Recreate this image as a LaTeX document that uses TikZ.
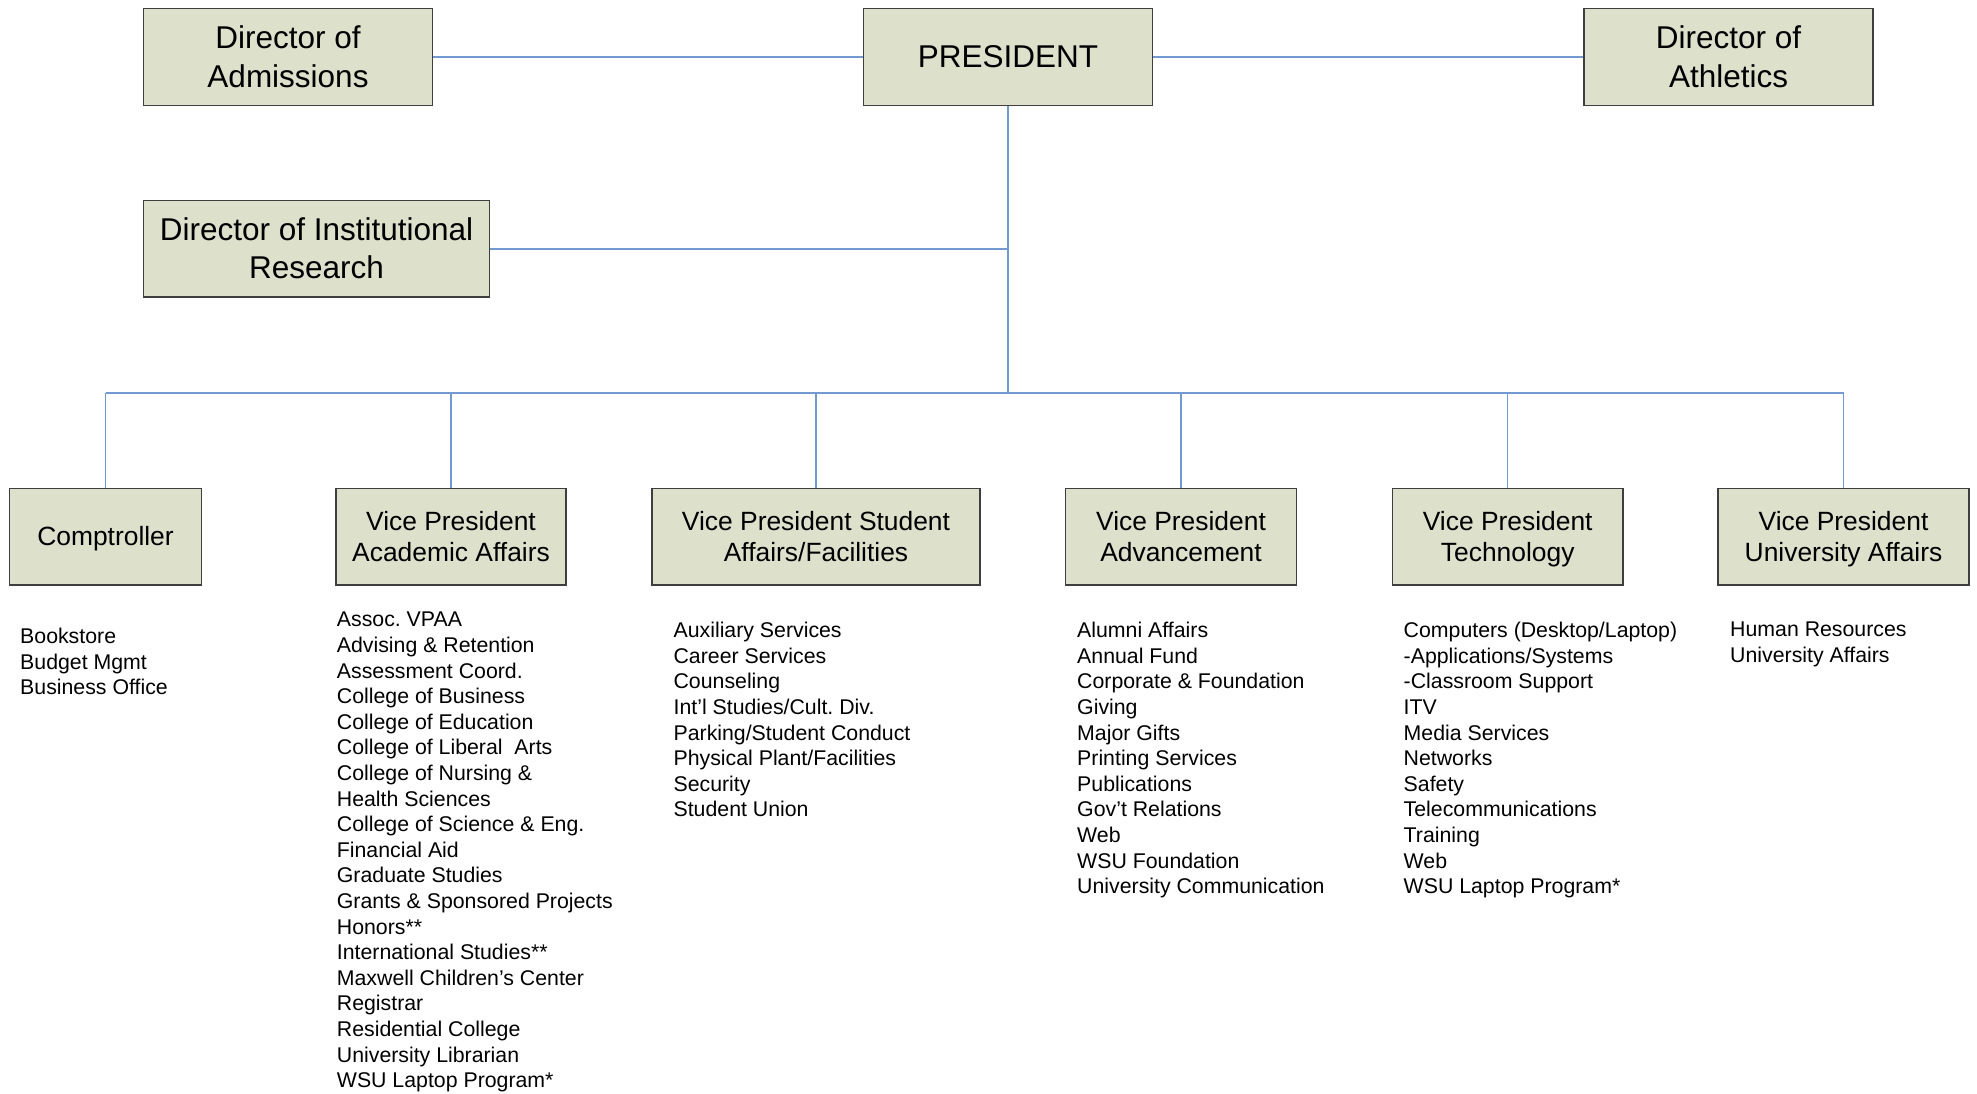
\documentclass[tikz,border=0pt]{standalone}
\usepackage{fontspec}
\setmainfont{Liberation Sans}
\frenchspacing
\definecolor{boxfill}{HTML}{DDE0CB}
\definecolor{boxline}{HTML}{3E3E3E}
\definecolor{conn}{HTML}{7399D2}
\newcommand\lstrut{\vrule width0pt height0.905em depth0.212em\relax}
\tikzset{
  orgbox/.style={draw=boxline, line width=1.4pt, fill=boxfill, inner sep=0pt, align=center, minimum height=96.5pt},
  topfont/.style={font=\fontsize{31.5}{38.4}\selectfont},
  vpfont/.style={font=\fontsize{26.4}{31.5}\selectfont},
  listtext/.style={anchor=north west, inner sep=0pt, align=left, font=\fontsize{21.3}{25.6}\selectfont},
  link/.style={draw=conn, line width=1.5pt}
}
\begin{document}
\begin{tikzpicture}[x=1pt,y=-1pt]
\useasboundingbox (0,0) rectangle (1977,1093);
% top row
\node[orgbox, topfont, minimum width=289pt] (adm) at (288,57) {\lstrut Director of\\\lstrut Admissions};
\node[orgbox, topfont, minimum width=289pt] (pres) at (1008,57) {\lstrut PRESIDENT};
\node[orgbox, topfont, minimum width=289pt] (ath) at (1728.5,57) {\lstrut Director of\\\lstrut Athletics};
\node[orgbox, topfont, minimum width=346pt] (ir) at (316.6,248.8) {\lstrut Director of Institutional\\\lstrut Research};
% VP row
\node[orgbox, vpfont, minimum width=192pt] (comp) at (105.5,536.8) {\lstrut Comptroller};
\node[orgbox, vpfont, minimum width=230pt] (vpaa) at (451,536.8) {\lstrut Vice President\\\lstrut Academic Affairs};
\node[orgbox, vpfont, minimum width=328pt] (vpsa) at (816,536.8) {\lstrut Vice President Student\\\lstrut Affairs/Facilities};
\node[orgbox, vpfont, minimum width=231pt] (vpadv) at (1181,536.8) {\lstrut Vice President\\\lstrut Advancement};
\node[orgbox, vpfont, minimum width=230.5pt] (vptech) at (1507.7,536.8) {\lstrut Vice President\\\lstrut Technology};
\node[orgbox, vpfont, minimum width=251pt] (vpua) at (1843.5,536.8) {\lstrut Vice President\\\lstrut University Affairs};
% connectors
\coordinate (bus) at (1008,393);
\draw[link] (adm.east) -- (pres.west);
\draw[link] (pres.east) -- (ath.west);
\draw[link] (pres.south) -- (bus);
\draw[link] (ir.east) -- (ir.east -| pres.south);
\draw[link] (comp.north |- bus) -- (vpua.north |- bus);
\draw[link] (comp.north) -- (comp.north |- bus);
\draw[link] (vpaa.north) -- (vpaa.north |- bus);
\draw[link] (vpsa.north) -- (vpsa.north |- bus);
\draw[link] (vpadv.north) -- (vpadv.north |- bus);
\draw[link] (vptech.north) -- (vptech.north |- bus);
\draw[link] (vpua.north) -- (vpua.north |- bus);
% lists
\node[listtext] (lcomp) at (20,628) {Bookstore\\Budget Mgmt\\Business Office};
\node[listtext] (lvpaa) at (336.7,612) {Assoc. VPAA\\Advising \& Retention\\Assessment Coord.\\College of Business\\College of Education\\College of Liberal\ \ Arts\\College of Nursing \&\\Health Sciences\\College of Science \& Eng.\\Financial Aid\\Graduate Studies\\Grants \& Sponsored Projects\\Honors**\\International Studies**\\Maxwell Children’s Center\\Registrar\\Residential College\\University Librarian\\WSU Laptop Program*};
\node[listtext] (lvpsa) at (673.4,622) {Auxiliary Services\\Career Services\\Counseling\\Int’l Studies/Cult. Div.\\Parking/Student Conduct\\Physical Plant/Facilities\\Security\\Student Union};
\node[listtext] (lvpadv) at (1077,622) {Alumni Affairs\\Annual Fund\\Corporate \& Foundation\\Giving\\Major Gifts\\Printing Services\\Publications\\Gov’t Relations\\Web\\WSU Foundation\\University Communication};
\node[listtext] (lvptech) at (1403.5,622) {Computers (Desktop/Laptop)\\-Applications/Systems\\-Classroom Support\\ITV\\Media Services\\Networks\\Safety\\Telecommunications\\Training\\Web\\WSU Laptop Program*};
\node[listtext] (lvpua) at (1730,622) {Human Resources\\University Affairs};
\end{tikzpicture}
\end{document}
